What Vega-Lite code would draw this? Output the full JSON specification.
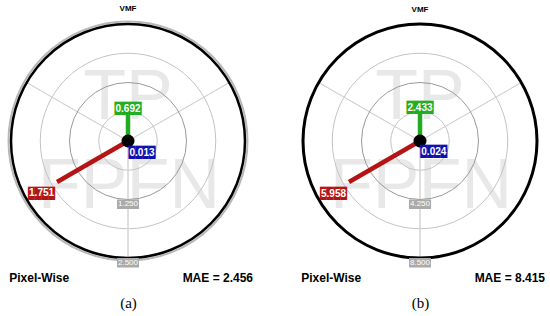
{
  "$schema": "https://vega.github.io/schema/vega-lite/v6.json",
  "padding": {"left": 4, "top": 5, "right": 0, "bottom": 0},
  "background": "white",
  "spacing": 44,
  "config": {
    "view": {"stroke": null},
    "font": "Liberation Sans",
    "title": {"fontSize": 8, "fontWeight": "bold", "font": "Liberation Sans", "color": "#000000", "offset": 4.2}
  },
  "datasets": {
    "metricsA": [{"metric": "TP", "value": 0.692}, {"metric": "FN", "value": 0.013}, {"metric": "FP", "value": 1.751}],
    "metricsB": [{"metric": "TP", "value": 2.433}, {"metric": "FN", "value": 0.024}, {"metric": "FP", "value": 5.958}],
    "ringsA": [{"ring": 0.625}, {"ring": 1.25}, {"ring": 1.875}, {"ring": 2.5}],
    "ringsB": [{"ring": 2.125}, {"ring": 4.25}, {"ring": 6.375}, {"ring": 8.5}],
    "spokes": [{"deg": 60}, {"deg": 180}, {"deg": 300}],
    "captionsA": [{"caption": "Pixel-Wise"}, {"caption": "MAE = 2.456"}],
    "captionsB": [{"caption": "Pixel-Wise"}, {"caption": "MAE = 8.415"}]
  },
  "hconcat": [
    {
      "width": 234, "height": 234,
      "title": "VMF",
      "resolve": {"scale": {"theta": "independent"}},
      "layer": [
        {
          "data": {"name": "captionsA"},
          "mark": {"type": "point", "opacity": 0},
          "encoding": {
            "x": {"field": "caption", "type": "nominal", "sort": null,
              "scale": {"type": "point", "domain": ["Pixel-Wise", "MAE = 2.456"], "padding": 0.155},
              "axis": {"title": "(a)", "orient": "bottom", "domain": false, "ticks": false, "grid": false, "labelAngle": 0,
                "labelFont": "Liberation Sans", "labelFontSize": 12, "labelFontWeight": "bold", "labelColor": "#000000", "labelPadding": 14,
                "titleFont": "Liberation Serif", "titleFontSize": 15, "titleFontWeight": "normal", "titleColor": "#000000", "titlePadding": 12}}
          }
        },
        {
          "data": {"name": "metricsA"},
          "mark": {"type": "text", "fontSize": 70, "color": "#e8e8e8", "baseline": "middle", "align": "center", "dy": 13},
          "encoding": {
            "theta": {"field": "metric", "type": "nominal", "scale": {"type": "point", "domain": ["FP", "TP", "FN"], "range": [-2.2, 2.2], "padding": 0}},
            "radius": {"datum": 1.197, "type": "quantitative", "scale": {"type": "linear", "domain": [0, 2.5], "range": [0, 117], "nice": false, "zero": true}},
            "text": {"field": "metric"}
          }
        },
        {
          "data": {"name": "ringsA"},
          "transform": [{"filter": {"field": "ring", "lt": 1}}],
          "mark": {"type": "arc", "theta": 0, "theta2": 6.2832, "filled": false, "stroke": "#c4c4c4", "strokeWidth": 1},
          "encoding": {"radius": {"field": "ring", "type": "quantitative"}}
        },
        {
          "data": {"name": "ringsA"},
          "transform": [{"filter": {"field": "ring", "range": [1.5, 2]}}],
          "mark": {"type": "arc", "theta": 0, "theta2": 6.2832, "filled": false, "stroke": "#c4c4c4", "strokeWidth": 1},
          "encoding": {"radius": {"field": "ring", "type": "quantitative"}}
        },
        {
          "data": {"name": "spokes"},
          "mark": {"type": "arc", "filled": false, "stroke": "#d4d4d4", "strokeWidth": 1},
          "encoding": {
            "theta": {"field": "deg", "type": "quantitative", "stack": null, "scale": {"domain": [0, 360], "range": [0, 6.28319], "nice": false, "zero": false}},
            "theta2": {"field": "deg"},
            "radius": {"datum": 2.5, "type": "quantitative"}
          }
        },
        {
          "data": {"name": "ringsA"},
          "transform": [{"filter": {"field": "ring", "equal": 1.25}}],
          "mark": {"type": "arc", "theta": 0, "theta2": 6.2832, "filled": false, "stroke": "#999999", "strokeWidth": 1},
          "encoding": {"radius": {"field": "ring", "type": "quantitative"}}
        },
        {
          "data": {"name": "ringsA"},
          "transform": [{"filter": {"field": "ring", "equal": 2.5}}],
          "mark": {"type": "arc", "theta": 0, "theta2": 6.2832, "filled": false, "stroke": "#b8b8b8", "strokeWidth": 2, "radiusOffset": 2.5},
          "encoding": {"radius": {"field": "ring", "type": "quantitative"}}
        },
        {
          "data": {"name": "ringsA"},
          "transform": [{"filter": {"field": "ring", "equal": 2.5}}],
          "mark": {"type": "arc", "theta": 0, "theta2": 6.2832, "filled": false, "stroke": "#000000", "strokeWidth": 2.5},
          "encoding": {"radius": {"field": "ring", "type": "quantitative"}}
        },
        {
          "data": {"name": "ringsA"},
          "transform": [{"filter": {"field": "ring", "oneOf": [1.25, 2.5]}}],
          "mark": {"type": "arc", "theta": 3.14159, "theta2": 3.14159, "filled": false, "stroke": "#aaaaaa", "strokeWidth": 22, "radiusOffset": 9.5},
          "encoding": {"radius": {"field": "ring", "type": "quantitative"}, "radius2": {"field": "ring"}}
        },
        {
          "data": {"name": "ringsA"},
          "transform": [{"filter": {"field": "ring", "oneOf": [1.25, 2.5]}}],
          "mark": {"type": "text", "theta": 3.14159, "radiusOffset": 4.75, "fontSize": 8, "color": "#ffffff", "baseline": "middle", "align": "center"},
          "encoding": {"radius": {"field": "ring", "type": "quantitative"}, "text": {"field": "ring", "type": "quantitative", "format": ".3f"}}
        },
        {
          "data": {"name": "metricsA"},
          "mark": {"type": "arc", "filled": false, "strokeWidth": 4.5},
          "encoding": {
            "theta": {"field": "metric", "type": "nominal", "scale": {"type": "point", "domain": ["FP", "TP", "FN"], "range": [-2.0944, 2.0944], "padding": 0}},
            "theta2": {"field": "metric"},
            "radius": {"field": "value", "type": "quantitative"},
            "stroke": {"field": "metric", "type": "nominal", "scale": {"domain": ["TP", "FN", "FP"], "range": ["#20ad20", "#1010b0", "#b41414"]}, "legend": null}
          }
        },
        {
          "data": {"values": [{}]},
          "mark": {"type": "arc", "theta": 0, "theta2": 6.2832, "radius": 6.5, "fill": "#000000"},
          "encoding": {}
        },
        {
          "data": {"name": "metricsA"},
          "transform": [{"filter": {"field": "metric", "equal": "TP"}}],
          "mark": {"type": "text", "font": "DejaVu Sans Mono", "fontSize": 11.2, "align": "center", "baseline": "middle"},
          "encoding": {
            "theta": {"field": "metric", "type": "nominal", "scale": {"type": "point", "domain": ["FP", "TP", "FN"], "range": [-2.0944, 2.0944], "padding": 0}},
            "radius": {"field": "value", "type": "quantitative"},
            "text": {"value": "████"},
            "color": {"field": "metric", "type": "nominal", "scale": {"domain": ["TP", "FN", "FP"], "range": ["#20ad20", "#1010b0", "#b41414"]}, "legend": null}
          }
        },
        {
          "data": {"name": "metricsA"},
          "transform": [{"filter": {"field": "metric", "equal": "TP"}}],
          "mark": {"type": "text", "fontSize": 10, "fontWeight": "bold", "color": "#ffffff", "align": "center", "baseline": "middle"},
          "encoding": {
            "theta": {"field": "metric", "type": "nominal", "scale": {"type": "point", "domain": ["FP", "TP", "FN"], "range": [-2.0944, 2.0944], "padding": 0}},
            "radius": {"field": "value", "type": "quantitative"},
            "text": {"field": "value", "type": "quantitative", "format": ".3f"}
          }
        },
        {
          "data": {"name": "metricsA"},
          "transform": [{"filter": {"field": "metric", "equal": "FN"}}],
          "mark": {"type": "text", "font": "DejaVu Sans Mono", "fontSize": 11.2, "align": "left", "baseline": "top", "dy": 6},
          "encoding": {
            "theta": {"field": "metric", "type": "nominal", "scale": {"type": "point", "domain": ["FP", "TP", "FN"], "range": [-2.0944, 2.0944], "padding": 0}},
            "radius": {"field": "value", "type": "quantitative"},
            "text": {"value": "████"},
            "color": {"field": "metric", "type": "nominal", "scale": {"domain": ["TP", "FN", "FP"], "range": ["#20ad20", "#1010b0", "#b41414"]}, "legend": null}
          }
        },
        {
          "data": {"name": "metricsA"},
          "transform": [{"filter": {"field": "metric", "equal": "FN"}}],
          "mark": {"type": "text", "fontSize": 10, "fontWeight": "bold", "color": "#ffffff", "align": "left", "baseline": "top", "dy": 6.5, "dx": 1},
          "encoding": {
            "theta": {"field": "metric", "type": "nominal", "scale": {"type": "point", "domain": ["FP", "TP", "FN"], "range": [-2.0944, 2.0944], "padding": 0}},
            "radius": {"field": "value", "type": "quantitative"},
            "text": {"field": "value", "type": "quantitative", "format": ".3f"}
          }
        },
        {
          "data": {"name": "metricsA"},
          "transform": [{"filter": {"field": "metric", "equal": "FP"}}],
          "mark": {"type": "text", "font": "DejaVu Sans Mono", "fontSize": 11.2, "align": "right", "baseline": "top", "radiusOffset": 4, "dy": 4, "dx": 1.5},
          "encoding": {
            "theta": {"field": "metric", "type": "nominal", "scale": {"type": "point", "domain": ["FP", "TP", "FN"], "range": [-2.0944, 2.0944], "padding": 0}},
            "radius": {"field": "value", "type": "quantitative"},
            "text": {"value": "████"},
            "color": {"field": "metric", "type": "nominal", "scale": {"domain": ["TP", "FN", "FP"], "range": ["#20ad20", "#1010b0", "#b41414"]}, "legend": null}
          }
        },
        {
          "data": {"name": "metricsA"},
          "transform": [{"filter": {"field": "metric", "equal": "FP"}}],
          "mark": {"type": "text", "fontSize": 10, "fontWeight": "bold", "color": "#ffffff", "align": "right", "baseline": "top", "radiusOffset": 4, "dy": 4.5, "dx": 0.5},
          "encoding": {
            "theta": {"field": "metric", "type": "nominal", "scale": {"type": "point", "domain": ["FP", "TP", "FN"], "range": [-2.0944, 2.0944], "padding": 0}},
            "radius": {"field": "value", "type": "quantitative"},
            "text": {"field": "value", "type": "quantitative", "format": ".3f"}
          }
        }
      ]
    },
    {
      "width": 234, "height": 234,
      "title": "VMF",
      "resolve": {"scale": {"theta": "independent"}},
      "layer": [
        {
          "data": {"name": "captionsB"},
          "mark": {"type": "point", "opacity": 0},
          "encoding": {
            "x": {"field": "caption", "type": "nominal", "sort": null,
              "scale": {"type": "point", "domain": ["Pixel-Wise", "MAE = 8.415"], "padding": 0.155},
              "axis": {"title": "(b)", "orient": "bottom", "domain": false, "ticks": false, "grid": false, "labelAngle": 0,
                "labelFont": "Liberation Sans", "labelFontSize": 12, "labelFontWeight": "bold", "labelColor": "#000000", "labelPadding": 14,
                "titleFont": "Liberation Serif", "titleFontSize": 15, "titleFontWeight": "normal", "titleColor": "#000000", "titlePadding": 12}}
          }
        },
        {
          "data": {"name": "metricsB"},
          "mark": {"type": "text", "fontSize": 70, "color": "#e8e8e8", "baseline": "middle", "align": "center", "dy": 13},
          "encoding": {
            "theta": {"field": "metric", "type": "nominal", "scale": {"type": "point", "domain": ["FP", "TP", "FN"], "range": [-2.2, 2.2], "padding": 0}},
            "radius": {"datum": 4.07, "type": "quantitative", "scale": {"type": "linear", "domain": [0, 8.5], "range": [0, 117], "nice": false, "zero": true}},
            "text": {"field": "metric"}
          }
        },
        {
          "data": {"name": "ringsB"},
          "transform": [{"filter": {"field": "ring", "lt": 3}}],
          "mark": {"type": "arc", "theta": 0, "theta2": 6.2832, "filled": false, "stroke": "#c4c4c4", "strokeWidth": 1},
          "encoding": {"radius": {"field": "ring", "type": "quantitative"}}
        },
        {
          "data": {"name": "ringsB"},
          "transform": [{"filter": {"field": "ring", "range": [5, 7]}}],
          "mark": {"type": "arc", "theta": 0, "theta2": 6.2832, "filled": false, "stroke": "#c4c4c4", "strokeWidth": 1},
          "encoding": {"radius": {"field": "ring", "type": "quantitative"}}
        },
        {
          "data": {"name": "spokes"},
          "mark": {"type": "arc", "filled": false, "stroke": "#d4d4d4", "strokeWidth": 1},
          "encoding": {
            "theta": {"field": "deg", "type": "quantitative", "stack": null, "scale": {"domain": [0, 360], "range": [0, 6.28319], "nice": false, "zero": false}},
            "theta2": {"field": "deg"},
            "radius": {"datum": 8.5, "type": "quantitative"}
          }
        },
        {
          "data": {"name": "ringsB"},
          "transform": [{"filter": {"field": "ring", "equal": 4.25}}],
          "mark": {"type": "arc", "theta": 0, "theta2": 6.2832, "filled": false, "stroke": "#999999", "strokeWidth": 1},
          "encoding": {"radius": {"field": "ring", "type": "quantitative"}}
        },
        {
          "data": {"name": "ringsB"},
          "transform": [{"filter": {"field": "ring", "equal": 8.5}}],
          "mark": {"type": "arc", "theta": 0, "theta2": 6.2832, "filled": false, "stroke": "#000000", "strokeWidth": 3},
          "encoding": {"radius": {"field": "ring", "type": "quantitative"}}
        },
        {
          "data": {"name": "ringsB"},
          "transform": [{"filter": {"field": "ring", "oneOf": [4.25, 8.5]}}],
          "mark": {"type": "arc", "theta": 3.14159, "theta2": 3.14159, "filled": false, "stroke": "#aaaaaa", "strokeWidth": 22, "radiusOffset": 9.5},
          "encoding": {"radius": {"field": "ring", "type": "quantitative"}, "radius2": {"field": "ring"}}
        },
        {
          "data": {"name": "ringsB"},
          "transform": [{"filter": {"field": "ring", "oneOf": [4.25, 8.5]}}],
          "mark": {"type": "text", "theta": 3.14159, "radiusOffset": 4.75, "fontSize": 8, "color": "#ffffff", "baseline": "middle", "align": "center"},
          "encoding": {"radius": {"field": "ring", "type": "quantitative"}, "text": {"field": "ring", "type": "quantitative", "format": ".3f"}}
        },
        {
          "data": {"name": "metricsB"},
          "mark": {"type": "arc", "filled": false, "strokeWidth": 4.5},
          "encoding": {
            "theta": {"field": "metric", "type": "nominal", "scale": {"type": "point", "domain": ["FP", "TP", "FN"], "range": [-2.0944, 2.0944], "padding": 0}},
            "theta2": {"field": "metric"},
            "radius": {"field": "value", "type": "quantitative"},
            "stroke": {"field": "metric", "type": "nominal", "scale": {"domain": ["TP", "FN", "FP"], "range": ["#20ad20", "#1010b0", "#b41414"]}, "legend": null}
          }
        },
        {
          "data": {"values": [{}]},
          "mark": {"type": "arc", "theta": 0, "theta2": 6.2832, "radius": 6.5, "fill": "#000000"},
          "encoding": {}
        },
        {
          "data": {"name": "metricsB"},
          "transform": [{"filter": {"field": "metric", "equal": "TP"}}],
          "mark": {"type": "text", "font": "DejaVu Sans Mono", "fontSize": 11.2, "align": "center", "baseline": "middle"},
          "encoding": {
            "theta": {"field": "metric", "type": "nominal", "scale": {"type": "point", "domain": ["FP", "TP", "FN"], "range": [-2.0944, 2.0944], "padding": 0}},
            "radius": {"field": "value", "type": "quantitative"},
            "text": {"value": "████"},
            "color": {"field": "metric", "type": "nominal", "scale": {"domain": ["TP", "FN", "FP"], "range": ["#20ad20", "#1010b0", "#b41414"]}, "legend": null}
          }
        },
        {
          "data": {"name": "metricsB"},
          "transform": [{"filter": {"field": "metric", "equal": "TP"}}],
          "mark": {"type": "text", "fontSize": 10, "fontWeight": "bold", "color": "#ffffff", "align": "center", "baseline": "middle"},
          "encoding": {
            "theta": {"field": "metric", "type": "nominal", "scale": {"type": "point", "domain": ["FP", "TP", "FN"], "range": [-2.0944, 2.0944], "padding": 0}},
            "radius": {"field": "value", "type": "quantitative"},
            "text": {"field": "value", "type": "quantitative", "format": ".3f"}
          }
        },
        {
          "data": {"name": "metricsB"},
          "transform": [{"filter": {"field": "metric", "equal": "FN"}}],
          "mark": {"type": "text", "font": "DejaVu Sans Mono", "fontSize": 11.2, "align": "left", "baseline": "top", "dy": 5},
          "encoding": {
            "theta": {"field": "metric", "type": "nominal", "scale": {"type": "point", "domain": ["FP", "TP", "FN"], "range": [-2.0944, 2.0944], "padding": 0}},
            "radius": {"field": "value", "type": "quantitative"},
            "text": {"value": "████"},
            "color": {"field": "metric", "type": "nominal", "scale": {"domain": ["TP", "FN", "FP"], "range": ["#20ad20", "#1010b0", "#b41414"]}, "legend": null}
          }
        },
        {
          "data": {"name": "metricsB"},
          "transform": [{"filter": {"field": "metric", "equal": "FN"}}],
          "mark": {"type": "text", "fontSize": 10, "fontWeight": "bold", "color": "#ffffff", "align": "left", "baseline": "top", "dy": 5.5, "dx": 1},
          "encoding": {
            "theta": {"field": "metric", "type": "nominal", "scale": {"type": "point", "domain": ["FP", "TP", "FN"], "range": [-2.0944, 2.0944], "padding": 0}},
            "radius": {"field": "value", "type": "quantitative"},
            "text": {"field": "value", "type": "quantitative", "format": ".3f"}
          }
        },
        {
          "data": {"name": "metricsB"},
          "transform": [{"filter": {"field": "metric", "equal": "FP"}}],
          "mark": {"type": "text", "font": "DejaVu Sans Mono", "fontSize": 11.2, "align": "right", "baseline": "top", "radiusOffset": 4, "dy": 4, "dx": 1.5},
          "encoding": {
            "theta": {"field": "metric", "type": "nominal", "scale": {"type": "point", "domain": ["FP", "TP", "FN"], "range": [-2.0944, 2.0944], "padding": 0}},
            "radius": {"field": "value", "type": "quantitative"},
            "text": {"value": "████"},
            "color": {"field": "metric", "type": "nominal", "scale": {"domain": ["TP", "FN", "FP"], "range": ["#20ad20", "#1010b0", "#b41414"]}, "legend": null}
          }
        },
        {
          "data": {"name": "metricsB"},
          "transform": [{"filter": {"field": "metric", "equal": "FP"}}],
          "mark": {"type": "text", "fontSize": 10, "fontWeight": "bold", "color": "#ffffff", "align": "right", "baseline": "top", "radiusOffset": 4, "dy": 4.5, "dx": 0.5},
          "encoding": {
            "theta": {"field": "metric", "type": "nominal", "scale": {"type": "point", "domain": ["FP", "TP", "FN"], "range": [-2.0944, 2.0944], "padding": 0}},
            "radius": {"field": "value", "type": "quantitative"},
            "text": {"field": "value", "type": "quantitative", "format": ".3f"}
          }
        }
      ]
    }
  ]
}
